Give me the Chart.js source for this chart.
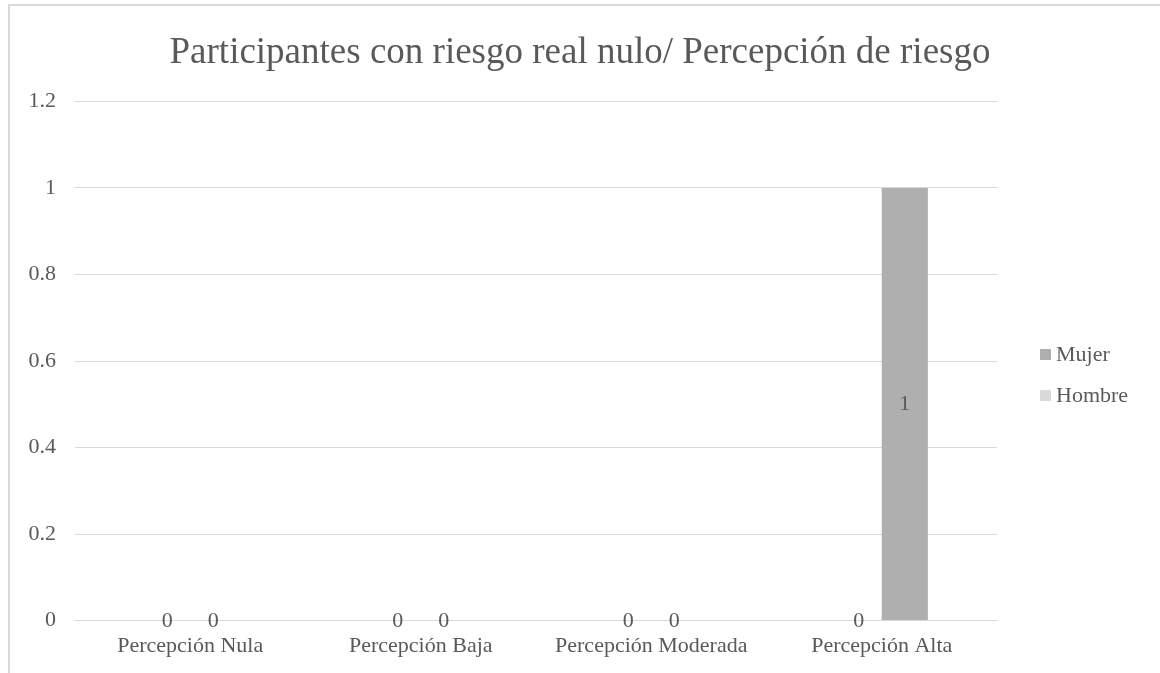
<!DOCTYPE html>
<html>
<head>
<meta charset="utf-8">
<script src="https://cdn.jsdelivr.net/npm/chart.js@4/dist/chart.umd.min.js"></script>
<style>
  html, body { margin: 0; padding: 0; background: #fff; }
  #wrap { width: 1160px; height: 673px; position: relative; }
</style>
</head>
<body>
<div id="wrap"><canvas id="c" width="1160" height="673"></canvas></div>
<script>
const titleText = 'Participantes con riesgo real nulo/ Percepción de riesgo';
const categories = ['Percepción Nula', 'Percepción Baja', 'Percepción Moderada', 'Percepción Alta'];
const seriesNames = ['Hombre', 'Mujer'];
const hombreValues = [0, 0, 0, 0];
const mujerValues = [0, 0, 0, 1];
const seriesColors = ['#dadada', '#afafaf'];
const yTicks = [0, 0.2, 0.4, 0.6, 0.8, 1, 1.2];

const FONT = "'Liberation Serif', 'Times New Roman', serif";
const TEXT = '#595959';
const FS = 22;

const bgBorder = {
  id: 'bgBorder',
  beforeDraw(chart) {
    const ctx = chart.ctx;
    ctx.save();
    ctx.fillStyle = '#fff';
    ctx.fillRect(0, 0, chart.width, chart.height);
    ctx.strokeStyle = '#d9d9d9';
    ctx.lineWidth = 2;
    ctx.beginPath();
    ctx.moveTo(9, chart.height + 5);
    ctx.lineTo(9, 5);
    ctx.lineTo(chart.width + 5, 5);
    ctx.stroke();
    ctx.restore();
  }
};

const dataLabels = {
  id: 'dataLabels',
  afterDatasetsDraw(chart) {
    const ctx = chart.ctx;
    ctx.save();
    ctx.font = FS + 'px ' + FONT;
    ctx.fillStyle = TEXT;
    ctx.textAlign = 'center';
    ctx.textBaseline = 'middle';
    chart.data.datasets.forEach((ds, di) => {
      const meta = chart.getDatasetMeta(di);
      meta.data.forEach((bar, i) => {
        const v = ds.data[i];
        const y = v === 0 ? bar.base + 1 : (bar.y + bar.base) / 2;
        ctx.fillText(String(v), bar.x, y);
      });
    });
    ctx.restore();
  }
};

const customLegend = {
  id: 'customLegend',
  afterDraw(chart) {
    const ctx = chart.ctx;
    ctx.save();
    ctx.font = FS + 'px ' + FONT;
    ctx.textBaseline = 'middle';
    ctx.textAlign = 'left';
    const items = chart.data.datasets.map((d) => ({ label: d.label, color: d.backgroundColor })).reverse();
    const x0 = 1040, y0 = 355, gap = 41;
    items.forEach((it, k) => {
      const y = y0 + k * gap;
      ctx.fillStyle = it.color;
      ctx.fillRect(x0, y - 6, 11, 11);
      ctx.fillStyle = TEXT;
      ctx.fillText(it.label, x0 + 16, y);
    });
    ctx.restore();
  }
};

new Chart(document.getElementById('c'), {
  type: 'bar',
  data: {
    labels: categories,
    datasets: [
      { label: seriesNames[0], data: hombreValues, backgroundColor: seriesColors[0] },
      { label: seriesNames[1], data: mujerValues, backgroundColor: seriesColors[1] }
    ]
  },
  options: {
    responsive: false,
    animation: false,
    devicePixelRatio: 1,
    categoryPercentage: 0.4,
    barPercentage: 1,
    layout: { padding: { left: 0, right: 0, top: 0, bottom: 2 } },
    plugins: {
      legend: { display: false },
      tooltip: { enabled: false },
      title: {
        display: true,
        text: titleText,
        color: TEXT,
        font: { family: FONT, size: 37, weight: 'normal' },
        padding: { top: 31, bottom: 26 }
      }
    },
    scales: {
      x: {
        grid: { display: false, drawTicks: false },
        border: { display: false },
        ticks: { color: TEXT, font: { family: FONT, size: FS }, padding: 12, maxRotation: 0 }
      },
      y: {
        min: 0,
        max: 1.2,
        afterBuildTicks(scale) { scale.ticks = yTicks.map(v => ({ value: v })); },
        afterFit(scale) { scale.width = 75; },
        grid: { color: '#d9d9d9', lineWidth: 1, drawTicks: false },
        border: { display: false },
        ticks: {
          color: TEXT,
          font: { family: FONT, size: FS },
          padding: 19,
          callback: (v) => String(Math.round(v * 10) / 10)
        }
      },
      legendSpace: {
        type: 'linear',
        position: 'right',
        display: true,
        afterFit(scale) { scale.width = 163; },
        grid: { display: false, drawTicks: false },
        border: { display: false },
        ticks: { display: false }
      }
    }
  },
  plugins: [bgBorder, dataLabels, customLegend]
});
</script>
</body>
</html>
